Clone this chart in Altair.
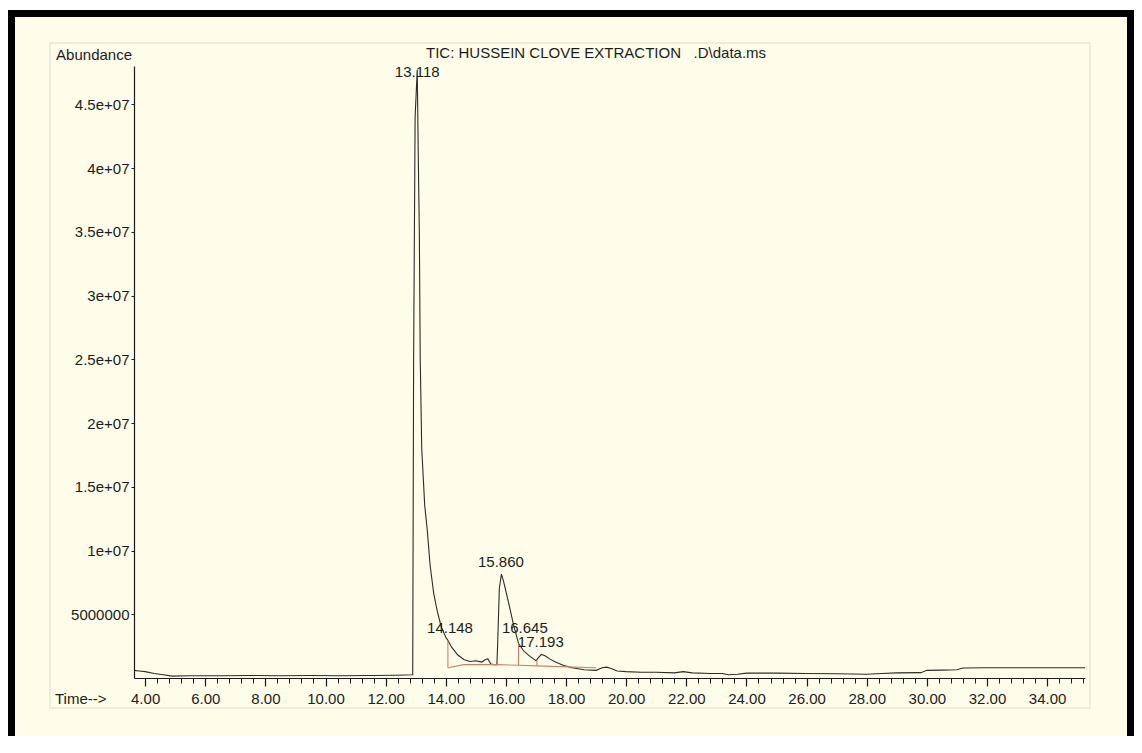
import altair as alt
import pandas as pd

# ---- data ----
times = [3.63, 3.8, 4.0, 4.3, 4.6, 4.9, 5.5, 6.5, 7.5, 8.5, 9.5, 10.5, 11.5, 12.3, 12.9,
         12.93, 12.98, 13.05, 13.09, 13.12, 13.15, 13.2, 13.3, 13.38, 13.48, 13.6, 13.72,
         13.85, 14.0, 14.07, 14.2, 14.4, 14.6, 14.8, 15.0, 15.2, 15.32, 15.4, 15.5, 15.6,
         15.7, 15.73, 15.78, 15.85, 15.92, 16.0, 16.1, 16.25, 16.42, 16.6, 16.8, 17.0,
         17.08, 17.18, 17.3, 17.45, 17.65, 17.9, 18.2, 18.6, 19.0, 19.2, 19.35, 19.5, 19.7,
         20.0, 20.5, 21.0, 21.6, 21.9, 22.2, 22.8, 23.2, 23.4, 23.7, 24.0, 25.0, 26.0, 27.0,
         28.0, 28.5, 29.0, 29.8, 30.0, 30.5, 31.0, 31.2, 32.0, 33.0, 34.0, 35.26]
abund_m = [0.6, 0.55, 0.5, 0.35, 0.25, 0.15, 0.18, 0.18, 0.2, 0.18, 0.2, 0.18, 0.2, 0.22, 0.25,
           25.0, 44.0, 47.7, 40.0, 35.0, 25.0, 18.0, 13.5, 11.7, 8.8, 6.6, 5.2,
           4.0, 3.2, 2.95, 2.4, 1.8, 1.45, 1.3, 1.35, 1.25, 1.45, 1.5, 1.1, 1.05,
           1.05, 3.0, 7.0, 8.15, 7.6, 6.8, 5.8, 4.2, 2.7, 2.1, 1.7, 1.35,
           1.6, 1.85, 1.75, 1.5, 1.25, 1.0, 0.8, 0.65, 0.6, 0.8, 0.85, 0.75, 0.55,
           0.5, 0.45, 0.45, 0.4, 0.5, 0.4, 0.35, 0.35, 0.25, 0.3, 0.38, 0.38, 0.35, 0.33,
           0.3, 0.35, 0.4, 0.42, 0.6, 0.62, 0.65, 0.78, 0.8, 0.8, 0.8, 0.8]

# integration baseline / drop lines (red)
red_times = [14.07, 14.6, 15.72, 16.42, 17.03, 19.0, 14.07, 14.07, 16.42, 16.42, 17.03, 17.03]
red_m = [0.8, 1.05, 1.05, 1.0, 0.95, 0.8, 0.8, 2.95, 1.0, 2.7, 0.95, 1.4]
red_group = [0, 0, 0, 0, 0, 0, 1, 1, 2, 2, 3, 3]

# peak labels
peak_labels = ["13.118", "15.860", "14.148", "16.645", "17.193"]
peak_label_t = [13.05, 15.835, 14.14, 16.63, 17.16]
peak_label_m = [47.5, 9.09, 3.92, 3.92, 2.82]

x_major = [4, 6, 8, 10, 12, 14, 16, 18, 20, 22, 24, 26, 28, 30, 32, 34]
x_minor = [round(4 + 0.4 * i, 1) for i in range(79)]
y_ticks = [5e6, 1e7, 1.5e7, 2e7, 2.5e7, 3e7, 3.5e7, 4e7, 4.5e7]
y_tick_labels = ["5000000", "1e+07", "1.5e+07", "2e+07", "2.5e+07", "3e+07", "3.5e+07", "4e+07", "4.5e+07"]

title_text = "TIC: HUSSEIN CLOVE EXTRACTION\u00a0\u00a0\u00a0.D\\data.ms"

trace = pd.DataFrame({"t": times, "a": [v * 1e6 for v in abund_m]})
red = pd.DataFrame({"t": red_times, "a": [v * 1e6 for v in red_m], "g": red_group})
labels = pd.DataFrame({"t": peak_label_t, "a": [v * 1e6 for v in peak_label_m], "lab": peak_labels})

FONT = "Liberation Sans"
INK = "#1c1c1c"
CREAM = "#fefde9"
W, H = 951, 612

xs = alt.Scale(domain=[3.63, 35.26], nice=False, zero=False)
ys = alt.Scale(domain=[0, 4.8e7], nice=False)

label_expr = "[" + ",".join("'%s'" % s for s in y_tick_labels) + "][indexof([" + \
    ",".join(str(int(v)) for v in y_ticks) + "], datum.value)]"

yaxis = alt.Axis(
    values=y_ticks, labelExpr=label_expr, tickSize=3, labelPadding=2, title=None,
    grid=False, domainColor=INK, tickColor=INK, labelColor=INK, labelFont=FONT,
    labelFontSize=15, domainWidth=1.2, zindex=3, orient="left")

frame = alt.Chart(alt.Data(values=[{}])).mark_rect(
    fill=CREAM, stroke="#000000", strokeWidth=7
).encode(x=alt.value(-122.5), x2=alt.value(996.5), y=alt.value(-52.5), y2=alt.value(700))

scanbox = alt.Chart(alt.Data(values=[{}])).mark_rect(
    fill=None, stroke="#e9e6d2", strokeWidth=1.5
).encode(x=alt.value(-84), x2=alt.value(956), y=alt.value(-23), y2=alt.value(642))

line = alt.Chart(trace).mark_line(color="#2f2b27", strokeWidth=1.1).encode(
    x=alt.X("t:Q", scale=xs, axis=alt.Axis(
        values=x_major, format=".2f", tickSize=8, labelPadding=5, title=None, orient="bottom",
        grid=False, domainColor=INK, tickColor=INK, labelColor=INK, labelFont=FONT,
        labelFontSize=15, labelFlush=False, domainWidth=1.2, tickWidth=1.2, zindex=3)),
    y=alt.Y("a:Q", scale=ys, axis=yaxis),
)

redl = alt.Chart(red).mark_line(color="#cc7f6c", strokeWidth=1.1).encode(
    x=alt.X("t:Q", scale=xs, axis=alt.Axis(
        values=x_minor, labels=False, tickSize=5, domain=False, title=None, grid=False,
        orient="bottom", tickColor=INK, tickWidth=1, zindex=3)),
    y=alt.Y("a:Q", scale=ys, axis=yaxis),
    detail="g:N",
)

txt = alt.Chart(labels).mark_text(font=FONT, fontSize=15, color=INK, baseline="middle").encode(
    x=alt.X("t:Q", scale=xs, axis=None),
    y=alt.Y("a:Q", scale=ys, axis=yaxis),
    text="lab:N",
)

title_mark = alt.Chart(pd.DataFrame({"s": [title_text]})).mark_text(
    font=FONT, fontSize=15, color=INK, align="left", baseline="middle"
).encode(x=alt.value(292), y=alt.value(-13), text="s:N")
abund_mark = alt.Chart(pd.DataFrame({"s": ["Abundance"]})).mark_text(
    font=FONT, fontSize=15, color=INK, align="right", baseline="middle"
).encode(x=alt.value(-2), y=alt.value(-11), text="s:N")
time_mark = alt.Chart(pd.DataFrame({"s": ["Time-->"]})).mark_text(
    font=FONT, fontSize=15, color=INK, align="left", baseline="middle"
).encode(x=alt.value(-79), y=alt.value(633), text="s:N")

chart = alt.layer(frame, scanbox, line, redl, txt, title_mark, abund_mark, time_mark).resolve_axis(
    x="independent"
).properties(
    width=W, height=H,
    autosize=alt.AutoSizeParams(type="none"),
    padding={"left": 126, "top": 58, "right": 49, "bottom": 58},
    background="white",
).configure_view(stroke=None)

chart.save("out.html", embed_options={"renderer": "svg", "actions": False})
